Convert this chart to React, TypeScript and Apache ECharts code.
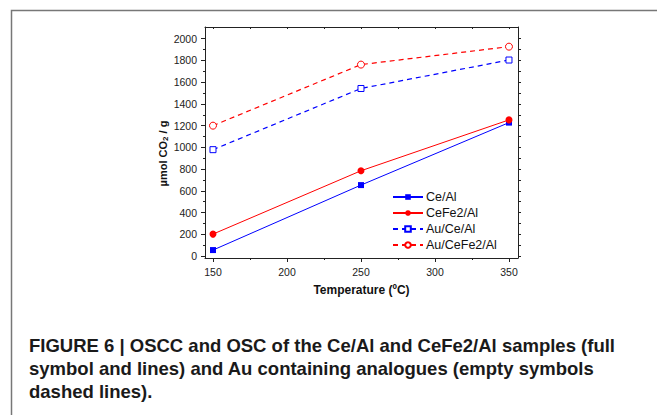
import React, { useEffect, useRef } from "react";
import * as echarts from "echarts";

const temperatures = [150, 250, 350];
const ceAl = [55, 653, 1228];
const ceFe2Al = [202, 785, 1253];
const auCeAl = [979, 1542, 1804];
const auCeFe2Al = [1200, 1762, 1927];

const xMajorTicks = [150, 200, 250, 300, 350];
const xMinorTicks = [175, 225, 275, 325];
const xTopTicks = [150, 175, 200, 225, 250, 275, 300, 325, 350];
const yMajorTicks = [0, 200, 400, 600, 800, 1000, 1200, 1400, 1600, 1800, 2000];
const yMinorTicks = [100, 300, 500, 700, 900, 1100, 1300, 1500, 1700, 1900];
const yRightTicks = [0, 100, 200, 300, 400, 500, 600, 700, 800, 900, 1000, 1100, 1200, 1300, 1400, 1500, 1600, 1700, 1800, 1900, 2000];

const seriesNames = ["Ce/Al", "CeFe2/Al", "Au/Ce/Al", "Au/CeFe2/Al"];
const caption =
  "FIGURE 6 | OSCC and OSC of the Ce/Al and CeFe2/Al samples (full\nsymbol and lines) and Au containing analogues (empty symbols\ndashed lines).";

const FONT = "'Liberation Sans', Arial, sans-serif";
const X_MIN = 144.6;
const X_MAX = 356.1;
const Y_MIN = -18;
const Y_MAX = 2108;

const pair = (vals: number[]) => temperatures.map((t, i) => [t, vals[i]]);

export default function App() {
  const ref = useRef<HTMLDivElement>(null);
  useEffect(() => {
    if (!ref.current) return;
    const chart = echarts.init(ref.current, null, { renderer: "svg" });
    const axisColor = "#222";
    const plain = (v: number) => String(v);
    const baseX = {
      type: "value" as const,
      min: X_MIN,
      max: X_MAX,
      splitLine: { show: false },
    };
    const baseY = {
      type: "value" as const,
      min: Y_MIN,
      max: Y_MAX,
      splitLine: { show: false },
    };
    chart.setOption({
      animation: false,
      backgroundColor: "#fff",
      title: {
        text: caption,
        left: 29,
        top: 334,
        padding: 0,
        textStyle: {
          fontFamily: FONT,
          fontSize: 18.5,
          fontWeight: "bold",
          lineHeight: 23,
          color: "#1a1a1a",
        },
      },
      graphic: [
        {
          type: "polyline",
          shape: { points: [[11.5, 415], [11.5, 10.5], [657, 10.5]] },
          style: { stroke: "#777", lineWidth: 1.5, fill: "none" },
          silent: true,
        },
      ],
      grid: { left: 205, top: 27, right: 139, bottom: 157, containLabel: false },
      legend: {
        orient: "vertical",
        left: 392,
        top: 190,
        padding: 0,
        itemWidth: 30,
        itemHeight: 7,
        itemGap: 2,
        data: seriesNames,
        textStyle: { fontFamily: FONT, fontSize: 12.5, color: "#111", lineHeight: 14, padding: [0, 0, 0, -2] },
      },
      xAxis: [
        {
          ...baseX,
          position: "bottom",
          name: "Temperature (ºC)",
          nameLocation: "middle",
          nameGap: 26,
          nameTextStyle: { fontFamily: FONT, fontSize: 12, fontWeight: "bold", color: "#111" },
          axisLine: { show: true, onZero: false, lineStyle: { color: axisColor, width: 1 } },
          axisTick: { show: true, inside: false, length: 4, customValues: xMajorTicks, lineStyle: { color: axisColor } },
          axisLabel: { show: true, customValues: xMajorTicks, formatter: plain, margin: 8, fontFamily: FONT, fontSize: 10.5, color: "#222" },
        },
        {
          ...baseX,
          position: "bottom",
          axisLine: { show: false, onZero: false },
          axisTick: { show: true, inside: false, length: 2, customValues: xMinorTicks, lineStyle: { color: axisColor } },
          axisLabel: { show: false },
        },
        {
          ...baseX,
          position: "top",
          axisLine: { show: true, onZero: false, lineStyle: { color: axisColor, width: 1 } },
          axisTick: { show: true, inside: true, length: 2, customValues: xTopTicks, lineStyle: { color: axisColor } },
          axisLabel: { show: false },
        },
      ],
      yAxis: [
        {
          ...baseY,
          position: "left",
          name: "{a|µmol CO}{b|2}{a| / g}",
          nameLocation: "middle",
          nameGap: 36,
          nameTextStyle: {
            padding: [0, 22, 0, 0],
            rich: {
              a: { fontFamily: FONT, fontSize: 11, fontWeight: "bold", color: "#111" },
              b: { fontFamily: FONT, fontSize: 8, fontWeight: "bold", color: "#111", verticalAlign: "bottom", padding: [4, 0, 0, 0] },
            },
          },
          axisLine: { show: true, onZero: false, lineStyle: { color: axisColor, width: 1 } },
          axisTick: { show: true, inside: false, length: 4, customValues: yMajorTicks, lineStyle: { color: axisColor } },
          axisLabel: { show: true, customValues: yMajorTicks, formatter: plain, margin: 8, fontFamily: FONT, fontSize: 10.5, color: "#222" },
        },
        {
          ...baseY,
          position: "left",
          axisLine: { show: false, onZero: false },
          axisTick: { show: true, inside: false, length: 2, customValues: yMinorTicks, lineStyle: { color: axisColor } },
          axisLabel: { show: false },
        },
        {
          ...baseY,
          position: "right",
          axisLine: { show: true, onZero: false, lineStyle: { color: axisColor, width: 1 } },
          axisTick: { show: true, inside: false, length: 3, customValues: yRightTicks, lineStyle: { color: axisColor } },
          axisLabel: { show: false },
        },
      ],
      series: [
        {
          name: seriesNames[0],
          type: "line",
          data: pair(ceAl),
          symbol: "rect",
          symbolSize: 6,
          color: "#0000ff",
          lineStyle: { width: 1, type: "solid", color: "#0000ff" },
          itemStyle: { color: "#0000ff" },
        },
        {
          name: seriesNames[1],
          type: "line",
          data: pair(ceFe2Al),
          symbol: "circle",
          symbolSize: 7,
          color: "#ff0000",
          lineStyle: { width: 1, type: "solid", color: "#ff0000" },
          itemStyle: { color: "#ff0000" },
        },
        {
          name: seriesNames[2],
          type: "line",
          data: pair(auCeAl),
          symbol: "rect",
          symbolSize: 6,
          color: "#0000ff",
          lineStyle: { width: 1.2, type: [5, 4], color: "#0000ff" },
          itemStyle: { color: "#ffffff", borderColor: "#0000ff", borderWidth: 1 },
        },
        {
          name: seriesNames[3],
          type: "line",
          data: pair(auCeFe2Al),
          symbol: "circle",
          symbolSize: 7,
          color: "#ff0000",
          lineStyle: { width: 1.2, type: [5, 4], color: "#ff0000" },
          itemStyle: { color: "#ffffff", borderColor: "#ff0000", borderWidth: 1 },
        },
      ],
    });
    return () => chart.dispose();
  }, []);
  return (
    <div
      ref={ref}
      style={{ position: "fixed", left: 0, top: 0, width: 657, height: 415, background: "#fff" }}
    />
  );
}
